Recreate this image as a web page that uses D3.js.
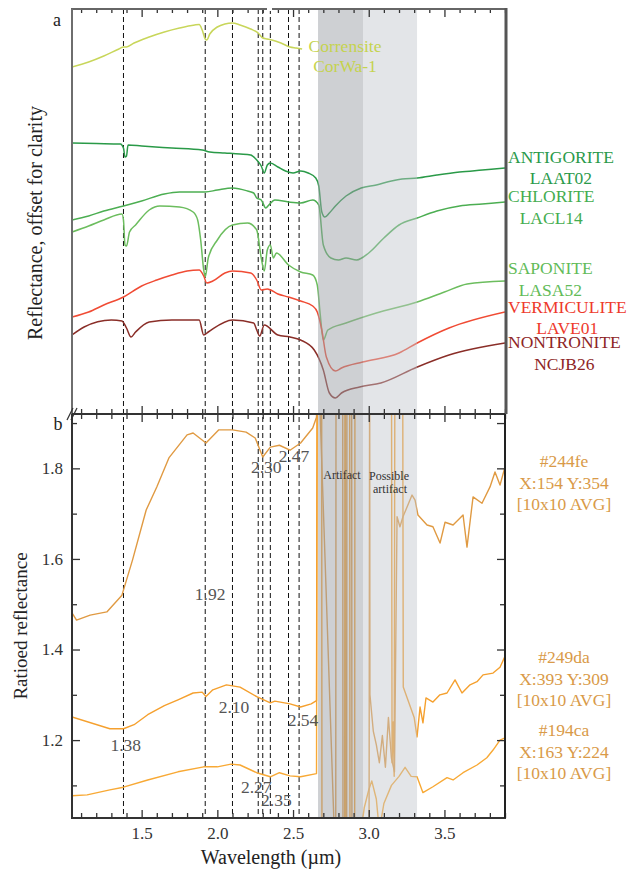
<!DOCTYPE html>
<html><head><meta charset="utf-8">
<script src="https://cdn.jsdelivr.net/npm/d3@7"></script>
<style>body{margin:0;background:#fff} svg{display:block} text{font-family:"Liberation Serif","DejaVu Serif",serif}</style>
</head><body><svg id="c" width="630" height="870"></svg>
<script>
// ---------- DATA ----------
const absorptionMarks = [1.38, 1.92, 2.10, 2.27, 2.30, 2.35, 2.47, 2.54];
const markLabels = ["1.38", "1.92", "2.10", "2.27", "2.30", "2.35", "2.47", "2.54"];
const artifactBand = [2.665, 2.962];
const possibleArtifactBand = [2.962, 3.319];
const xMajorTicks = [1.5, 2.0, 2.5, 3.0, 3.5];
const yMajorTicks = [1.2, 1.4, 1.6, 1.8];

// panel a : library spectra, offset for clarity (arbitrary units)
const corrensite = [[1.04,34.7],[1.15,35.2],[1.25,35.8],[1.35,36.5],[1.38,36.7],[1.40,36.7],[1.45,37.1],[1.55,37.7],[1.65,38.2],[1.75,38.6],[1.85,38.9],[1.88,38.95],[1.90,38.4],[1.92,37.5],[1.93,37.4],[1.95,38.0],[2.00,38.7],[2.05,39.0],[2.10,39.1],[2.15,38.9],[2.22,38.5],[2.27,38.1],[2.30,37.6],[2.33,37.5],[2.36,37.4],[2.42,37.1],[2.48,36.7],[2.52,36.6],[2.56,36.5]];
const antigorite = [[1.04,27.1],[1.20,27.05],[1.36,27.0],[1.38,26.6],[1.39,25.7],[1.40,25.8],[1.41,26.9],[1.50,26.8],[1.70,26.6],[1.90,26.4],[1.95,26.2],[2.05,26.1],[2.15,26.0],[2.22,25.9],[2.26,25.4],[2.29,24.8],[2.31,24.1],[2.33,24.9],[2.35,25.1],[2.40,24.7],[2.45,24.3],[2.50,24.1],[2.55,24.3],[2.60,24.1],[2.65,23.6],[2.67,22.8],[2.69,20.2],[2.71,19.7],[2.74,20.1],[2.78,20.8],[2.85,21.8],[2.95,22.6],[3.05,22.9],[3.15,23.3],[3.22,23.5],[3.32,23.6],[3.45,23.9],[3.60,24.2],[3.75,24.4],[3.90,24.6]];
const chlorite = [[1.04,19.4],[1.15,19.8],[1.25,20.3],[1.38,20.8],[1.50,21.3],[1.65,22.0],[1.75,22.2],[1.92,22.2],[2.00,22.4],[2.10,22.6],[2.20,22.3],[2.24,22.1],[2.26,21.6],[2.29,21.4],[2.32,20.6],[2.34,20.9],[2.38,21.4],[2.47,21.2],[2.55,21.1],[2.63,21.4],[2.67,20.9],[2.70,16.9],[2.75,15.6],[2.80,15.4],[2.85,15.6],[2.92,15.4],[3.00,16.1],[3.10,17.6],[3.20,18.9],[3.32,19.6],[3.45,20.3],[3.60,20.8],[3.75,21.0],[3.90,21.2]];
const saponite = [[1.04,18.2],[1.15,18.8],[1.25,19.4],[1.37,20.0],[1.38,19.4],[1.39,16.9],[1.40,16.8],[1.42,18.2],[1.46,18.9],[1.55,20.4],[1.62,20.8],[1.75,20.7],[1.84,20.2],[1.87,19.4],[1.89,17.4],[1.91,14.4],[1.92,13.7],[1.94,15.6],[2.00,17.4],[2.10,18.9],[2.20,19.1],[2.26,18.4],[2.29,15.6],[2.31,14.3],[2.33,16.4],[2.35,16.9],[2.37,15.6],[2.39,16.1],[2.47,14.9],[2.55,14.2],[2.63,13.9],[2.66,12.9],[2.68,9.9],[2.70,7.4],[2.73,8.4],[2.85,9.1],[3.05,10.1],[3.32,11.2],[3.50,12.2],[3.65,13.0],[3.90,13.3]];
const vermiculite = [[1.04,9.7],[1.15,10.2],[1.25,10.9],[1.38,11.7],[1.50,12.8],[1.60,13.4],[1.70,13.9],[1.80,14.3],[1.88,14.4],[1.91,13.8],[1.93,13.1],[1.97,13.3],[2.05,14.1],[2.10,14.3],[2.22,14.1],[2.26,13.4],[2.29,12.4],[2.33,12.5],[2.40,12.0],[2.47,11.7],[2.55,11.3],[2.63,10.8],[2.66,10.2],[2.69,8.4],[2.72,5.7],[2.78,4.3],[2.82,4.6],[2.96,5.2],[3.20,6.1],[3.32,7.1],[3.53,8.6],[3.90,10.2]];
const nontronite = [[1.04,7.9],[1.12,8.7],[1.30,9.4],[1.37,9.3],[1.40,8.6],[1.43,7.7],[1.46,8.2],[1.55,9.2],[1.70,9.4],[1.88,9.4],[1.91,7.9],[1.94,8.2],[2.10,9.4],[2.24,9.1],[2.26,8.4],[2.28,7.8],[2.31,8.9],[2.40,7.9],[2.48,7.7],[2.55,7.4],[2.64,6.4],[2.70,4.4],[2.74,2.1],[2.78,1.6],[2.82,2.1],[2.94,2.7],[3.08,3.1],[3.32,4.7],[3.53,5.9],[3.90,7.1]];

// panel b : ratioed reflectance spectra (values beyond the axis range are clipped)
const roi244fe = [[1.04,1.481],[1.07,1.465],[1.16,1.476],[1.27,1.483],[1.37,1.520],[1.44,1.598],[1.53,1.708],[1.60,1.759],[1.68,1.823],[1.80,1.874],[1.84,1.878],[1.925,1.856],[2.01,1.885],[2.10,1.885],[2.19,1.880],[2.25,1.867],[2.30,1.825],[2.35,1.847],[2.41,1.851],[2.48,1.840],[2.55,1.856],[2.63,1.889],[2.655,1.913],[2.662,2.10],[2.676,1.95],[2.777,0.95],[2.782,0.95],[2.784,2.10],[2.828,2.10],[2.830,0.95],[2.854,0.95],[2.856,2.10],[2.887,2.10],[2.889,0.95],[3.002,0.95],[3.006,2.10],[3.008,1.30],[3.03,1.22],[3.05,1.19],[3.07,1.15],[3.09,1.21],[3.11,1.14],[3.13,1.25],[3.15,1.16],[3.17,1.13],[3.187,1.693],[3.206,1.671],[3.226,1.693],[3.286,1.741],[3.306,1.730],[3.325,1.697],[3.385,1.675],[3.424,1.671],[3.471,1.635],[3.504,1.681],[3.557,1.675],[3.623,1.697],[3.649,1.626],[3.689,1.737],[3.748,1.723],[3.801,1.759],[3.834,1.792],[3.867,1.763],[3.90,1.803]];
const roi249da = [[1.04,1.251],[1.29,1.225],[1.38,1.225],[1.45,1.234],[1.54,1.256],[1.65,1.276],[1.74,1.289],[1.84,1.304],[1.90,1.306],[1.925,1.296],[1.97,1.311],[2.06,1.322],[2.15,1.317],[2.26,1.296],[2.35,1.282],[2.38,1.286],[2.48,1.280],[2.55,1.273],[2.62,1.280],[2.655,1.287],[2.660,2.10],[2.689,2.10],[2.691,0.95],[2.841,0.95],[2.843,2.10],[2.874,2.10],[2.876,0.95],[2.907,0.95],[2.909,2.10],[3.150,2.10],[3.154,1.15],[3.162,1.24],[3.168,1.12],[3.173,2.10],[3.224,2.10],[3.228,1.317],[3.30,1.25],[3.319,1.207],[3.339,1.273],[3.358,1.238],[3.378,1.293],[3.424,1.284],[3.47,1.30],[3.517,1.304],[3.57,1.333],[3.616,1.304],[3.669,1.322],[3.715,1.329],[3.755,1.344],[3.821,1.348],[3.867,1.361],[3.90,1.385]];
const roi194ca = [[1.04,1.077],[1.14,1.079],[1.29,1.090],[1.38,1.096],[1.54,1.112],[1.74,1.130],[1.91,1.141],[2.00,1.141],[2.09,1.147],[2.15,1.145],[2.26,1.128],[2.35,1.119],[2.41,1.128],[2.48,1.121],[2.55,1.119],[2.655,1.126],[2.660,2.10],[2.846,2.10],[2.848,0.95],[2.93,0.95],[2.97,1.05],[3.00,1.09],[3.02,1.11],[3.05,1.07],[3.07,1.00],[3.10,1.06],[3.15,1.10],[3.20,1.12],[3.24,1.14],[3.28,1.12],[3.319,1.119],[3.358,1.084],[3.424,1.097],[3.517,1.117],[3.557,1.112],[3.623,1.128],[3.715,1.145],[3.78,1.161],[3.821,1.178],[3.867,1.200],[3.90,1.205]];

// ---------- LAYOUT ----------
const L = 72, R = 505, T = 9, M = 414, B = 818;
const svg = d3.select("#c");
const x = d3.scaleLinear().domain([1.04, 3.90]).range([L, R]);
const yA = d3.scaleLinear().domain([0, 40.5]).range([M, T]);
const yB = d3.scaleLinear().domain([1.028, 1.920]).range([B, M]);

const defs = svg.append("defs");
defs.append("clipPath").attr("id","clipB")
  .append("rect").attr("x",L).attr("y",M).attr("width",R-L).attr("height",B-M);
defs.append("clipPath").attr("id","clipA")
  .append("rect").attr("x",L).attr("y",T).attr("width",R-L).attr("height",M-T);

// dashed absorption lines
svg.append("g").selectAll("line").data(absorptionMarks).join("line")
  .attr("x1", d=>x(d)).attr("x2", d=>x(d)).attr("y1", T).attr("y2", B)
  .attr("stroke","#111").attr("stroke-width",1).attr("stroke-dasharray","5,3");

// panel a lines
const lineA = d3.line().x(d=>x(d[0])).y(d=>yA(d[1])).curve(d3.curveMonotoneX);
const seriesA = [
  {d: corrensite, c:"#c8d65a"},
  {d: antigorite, c:"#2a9a48"},
  {d: chlorite, c:"#4cae52"},
  {d: saponite, c:"#6cbd5e"},
  {d: vermiculite, c:"#f04b34"},
  {d: nontronite, c:"#8a2e28"}
];
const gA = svg.append("g").attr("clip-path","url(#clipA)");
seriesA.forEach(s => gA.append("path").attr("d", lineA(s.d)).attr("fill","none")
  .attr("stroke", s.c).attr("stroke-width",1.5));

// panel b lines
const lineB = d3.line().x(d=>x(d[0])).y(d=>yB(d[1]));
const seriesB = [
  {d: roi194ca, c:"#f8a935"},
  {d: roi249da, c:"#f5a02e"},
  {d: roi244fe, c:"#e09a42"}
];
const gB = svg.append("g").attr("clip-path","url(#clipB)");
seriesB.forEach(s => gB.append("path").attr("d", lineB(s.d)).attr("fill","none")
  .attr("stroke", s.c).attr("stroke-width",1.4).attr("stroke-linejoin","round"));

// artifact bands (semi-transparent overlays)
svg.append("rect").attr("x", x(artifactBand[0])).attr("y", T)
  .attr("width", x(artifactBand[1]) - x(artifactBand[0])).attr("height", B - T)
  .attr("fill","#9ea1a7").attr("opacity",0.5);
svg.append("rect").attr("x", x(possibleArtifactBand[0])).attr("y", T)
  .attr("width", x(possibleArtifactBand[1]) - x(possibleArtifactBand[0])).attr("height", B - T)
  .attr("fill","#c2c5cb").attr("opacity",0.45);

// ---------- AXES ----------
const minorX = d3.range(11, 40).map(v => v/10).filter(v => !xMajorTicks.includes(v));
const minorY = d3.range(11, 20).map(v => v/10).filter(v => !yMajorTicks.includes(v));
function styleAxis(g){ g.select(".domain").remove(); g.selectAll("line").attr("stroke","#333").attr("stroke-width",1.3); g.selectAll("text").attr("font-size",17).attr("fill","#333").attr("font-family","'Liberation Serif',serif"); }

svg.append("g").attr("transform",`translate(0,${T})`).call(d3.axisTop(x).tickValues(xMajorTicks).tickSize(-8).tickFormat("")).call(styleAxis);
svg.append("g").attr("transform",`translate(0,${T})`).call(d3.axisTop(x).tickValues(minorX).tickSize(-4).tickFormat("")).call(styleAxis);
svg.append("g").attr("transform",`translate(0,${M})`).call(d3.axisBottom(x).tickValues(xMajorTicks).tickSize(-8).tickFormat("")).call(styleAxis);
svg.append("g").attr("transform",`translate(0,${M})`).call(d3.axisBottom(x).tickValues(minorX).tickSize(-5).tickFormat("")).call(styleAxis);
svg.append("g").attr("transform",`translate(0,${M})`).call(d3.axisTop(x).tickValues(xMajorTicks).tickSize(-8).tickFormat("")).call(styleAxis);
svg.append("g").attr("transform",`translate(0,${M})`).call(d3.axisTop(x).tickValues(minorX).tickSize(-5).tickFormat("")).call(styleAxis);
svg.append("g").attr("transform",`translate(0,${B})`).call(d3.axisBottom(x).tickValues(xMajorTicks).tickSize(-8).tickPadding(9).tickFormat(d3.format(".1f"))).call(styleAxis);
svg.append("g").attr("transform",`translate(0,${B})`).call(d3.axisBottom(x).tickValues(minorX).tickSize(-5).tickFormat("")).call(styleAxis);
svg.append("g").attr("transform",`translate(${L},0)`).call(d3.axisLeft(yB).tickValues(yMajorTicks).tickSize(-8).tickPadding(9).tickFormat(d3.format(".1f"))).call(styleAxis);
svg.append("g").attr("transform",`translate(${L},0)`).call(d3.axisLeft(yB).tickValues(minorY).tickSize(-5).tickFormat("")).call(styleAxis);
svg.append("g").attr("transform",`translate(${R},0)`).call(d3.axisRight(yB).tickValues(yMajorTicks.concat([1.9])).tickSize(-8).tickFormat("")).call(styleAxis);
svg.append("g").attr("transform",`translate(${R},0)`).call(d3.axisRight(yB).tickValues(minorY.filter(v=>v!==1.9)).tickSize(-5).tickFormat("")).call(styleAxis);

// borders
const border = (x1,y1,x2,y2,c,w) => svg.append("line").attr("x1",x1).attr("y1",y1).attr("x2",x2).attr("y2",y2).attr("stroke",c).attr("stroke-width",w);
border(L-1, T, R+1, T, "#666", 2.2);
border(L, T, L, M, "#6e6e6e", 2);
border(R+1, T-1, R+1, M, "#555", 3);
border(L, M, R, M, "#333", 2);
border(L, M, L, B, "#333", 2);
border(L-1, B, R+1, B, "#333", 2);
border(R, M, R, B, "#222", 2);
svg.append("rect").attr("x",267).attr("y",T-2).attr("width",5).attr("height",4).attr("fill","#fff");
// axis break marks
svg.append("line").attr("x1",67).attr("y1",420).attr("x2",73).attr("y2",408).attr("stroke","#333").attr("stroke-width",1.2);
svg.append("line").attr("x1",71).attr("y1",420).attr("x2",77).attr("y2",408).attr("stroke","#333").attr("stroke-width",1.2);

// ---------- TEXT ----------
const txt = (s, tx, ty, opt={}) => svg.append("text").attr("x",tx).attr("y",ty).text(s)
  .attr("font-size", opt.size||16).attr("fill", opt.fill||"#222").attr("text-anchor", opt.anchor||"middle");
txt("a", 57, 26, {size:18});
txt("b", 58, 430, {size:18});

svg.append("text").attr("transform","translate(42,223) rotate(-90)").attr("text-anchor","middle")
  .attr("font-size",20).attr("fill","#222").text("Reflectance, offset for clarity");
svg.append("text").attr("transform","translate(27,626) rotate(-90)").attr("text-anchor","middle")
  .attr("font-size",19).attr("fill","#222").text("Ratioed reflectance");
txt("Wavelength (µm)", 271, 864, {size:20});

// absorption labels (placed in data coordinates of panel b)
const markLabelPos = [[1.395,1.189],[1.952,1.523],[2.11,1.273],[2.257,1.097],[2.323,1.803],[2.39,1.068],[2.506,1.827],[2.566,1.245]];
markLabels.forEach((s,i) => txt(s, x(markLabelPos[i][0]), yB(markLabelPos[i][1]) + 6, {size:17.5, fill:"#555"}));

txt("Artifact", 342, 479, {size:12, fill:"#333"});
txt("Possible", 389, 480, {size:12, fill:"#333"});
txt("artifact", 390, 493, {size:12, fill:"#333"});

txt("Corrensite", 345, 52, {size:17.5, fill:"#c5d34e"});
txt("CorWa-1", 345, 72, {size:17.5, fill:"#c5d34e"});

const libLabels = [
  ["ANTIGORITE","LAAT02","#2a9a4a",163,184],
  ["CHLORITE","LACL14","#45ad50",202,224],
  ["SAPONITE","LASA52","#62bb58",274,296],
  ["VERMICULITE","LAVE01","#ee3a2c",313,334],
  ["NONTRONITE","NCJB26","#8e2626",348,370]
];
libLabels.forEach(l => {
  const t = txt(l[0], 508, l[3], {size:17.5, fill:l[2], anchor:"start"});
  const w = t.node().getComputedTextLength();
  txt(l[1], 508 + w/2, l[4], {size:17.5, fill:l[2]});
});

const roiLabels = [
  ["#244fe","X:154 Y:354","[10x10 AVG]",467],
  ["#249da","X:393 Y:309","[10x10 AVG]",663],
  ["#194ca","X:163 Y:224","[10x10 AVG]",736]
];
roiLabels.forEach(r => {
  txt(r[0], 564, r[3], {size:17.5, fill:"#d99a48"});
  txt(r[1], 564, r[3]+21.5, {size:17.5, fill:"#d99a48"});
  txt(r[2], 564, r[3]+43, {size:17.5, fill:"#d99a48"});
});
</script></body></html>
